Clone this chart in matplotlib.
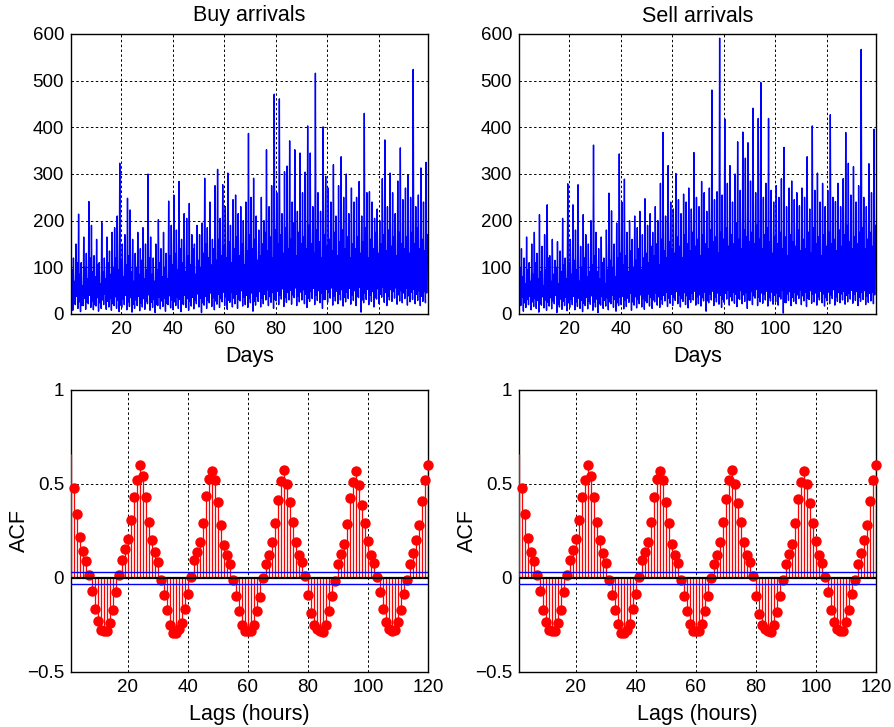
import numpy as np
import matplotlib
matplotlib.use("Agg")
import matplotlib.pyplot as plt

plt.rcParams['font.family'] = ['Liberation Sans', 'DejaVu Sans']

# ---------------- data: daily profile (low, peak, dip, mid) of hourly arrivals ----------------
buy_peak = [170, 120, 150, 214, 110, 165, 130, 241, 190, 125,
            160, 110, 196, 120, 165, 135, 175, 185, 210, 323,
            150, 170, 248, 223, 160, 130, 175, 140, 185, 150,
            300, 165, 120, 150, 202, 140, 175, 130, 242, 190,
            255, 180, 284, 160, 215, 205, 237, 170, 150, 190,
            170, 195, 291, 185, 240, 160, 275, 310, 205, 277,
            230, 302, 190, 245, 255, 215, 230, 200, 240, 387,
            250, 291, 210, 180, 250, 200, 352, 230, 275, 471,
            260, 461, 215, 305, 317, 371, 240, 352, 220, 345,
            260, 304, 403, 345, 230, 516, 260, 220, 401, 295,
            270, 240, 320, 210, 275, 337, 250, 300, 215, 270,
            240, 250, 284, 210, 430, 260, 262, 240, 205, 225,
            200, 290, 373, 230, 302, 260, 215, 285, 356, 245,
            270, 297, 250, 524, 230, 255, 313, 240, 325]
buy_mid = [95, 70, 110, 85, 60, 100, 75, 120, 90, 80,
           105, 65, 90, 75, 110, 85, 100, 120, 95, 115,
           80, 105, 125, 90, 70, 100, 85, 115, 75, 95,
           120, 85, 70, 95, 110, 80, 100, 75, 125, 105,
           130, 95, 140, 110, 90, 125, 105, 140, 85, 115,
           100, 130, 150, 120, 105, 140, 115, 160, 125, 145,
           120, 155, 110, 140, 165, 125, 150, 105, 135, 170,
           140, 160, 115, 125, 150, 175, 135, 165, 120, 180,
           150, 170, 130, 185, 140, 160, 195, 125, 175, 150,
           165, 140, 190, 150, 130, 180, 155, 120, 170, 145,
           160, 135, 175, 125, 155, 180, 140, 165, 120, 150,
           140, 165, 130, 155, 185, 120, 160, 140, 175, 130,
           150, 170, 135, 180, 145, 165, 125, 175, 150, 140,
           165, 130, 175, 150, 185, 140, 160, 135, 170]
buy_low = [15, 8, 20, 12, 5, 18, 10, 22, 14, 9,
           17, 6, 12, 20, 10, 15, 8, 18, 12, 5,
           14, 20, 9, 16, 4, 12, 18, 7, 15, 10,
           22, 8, 14, 3, 18, 11, 16, 6, 20, 13,
           9, 18, 12, 5, 20, 14, 8, 17, 11, 22,
           15, 3, 19, 12, 24, 16, 9, 21, 14, 26,
           18, 10, 25, 15, 22, 12, 28, 17, 20, 14,
           24, 6, 19, 27, 15, 22, 30, 18, 25, 12,
           28, 20, 32, 16, 25, 30, 21, 35, 18, 26,
           30, 22, 14, 27, 33, 20, 29, 24, 12, 31,
           25, 34, 19, 28, 22, 30, 17, 26, 33, 21,
           29, 18, 35, 4, 24, 31, 20, 27, 15, 32,
           22, 36, 25, 18, 30, 27, 34, 21, 28, 24,
           33, 19, 26, 31, 22, 29, 18, 27, 24]
buy_dip = [30, 22, 38, 26, 18, 34, 25, 40, 28, 20,
           35, 24, 30, 42, 27, 33, 22, 37, 29, 19,
           32, 40, 26, 35, 21, 30, 38, 24, 33, 27,
           41, 25, 31, 20, 36, 28, 34, 23, 39, 30,
           26, 37, 31, 22, 40, 33, 27, 36, 29, 43,
           34, 24, 38, 30, 45, 35, 28, 42, 33, 47,
           37, 29, 46, 34, 42, 31, 50, 36, 40, 33,
           45, 27, 38, 48, 34, 42, 52, 37, 46, 31,
           49, 40, 54, 35, 46, 51, 41, 56, 38, 47,
           52, 42, 33, 48, 55, 40, 50, 44, 31, 53,
           46, 56, 39, 49, 42, 52, 36, 47, 55, 41,
           50, 38, 57, 30, 45, 53, 40, 48, 35, 54,
           42, 58, 46, 38, 52, 48, 56, 41, 50, 45,
           55, 39, 47, 53, 42, 50, 38, 48, 45]

sell_peak = [215, 140, 120, 165, 110, 150, 175, 130, 213, 145,
             170, 234, 125, 160, 115, 155, 135, 205, 120, 279,
             160, 234, 180, 277, 145, 213, 170, 150, 200, 362,
             175, 140, 165, 120, 180, 259, 221, 150, 195, 343,
             240, 289, 175, 200, 160, 210, 185, 220, 170, 247,
             190, 215, 175, 230, 200, 280, 389, 210, 318, 240,
             225, 301, 245, 215, 257, 240, 270, 225, 346, 250,
             230, 284, 260, 220, 270, 480, 245, 262, 591, 255,
             418, 280, 318, 240, 300, 369, 265, 390, 334, 367,
             285, 441, 260, 419, 496, 250, 280, 419, 265, 240,
             275, 250, 290, 357, 230, 270, 285, 245, 260, 232,
             270, 250, 337, 225, 403, 265, 302, 240, 280, 230,
             265, 427, 250, 241, 280, 230, 290, 389, 323, 255,
             316, 240, 275, 567, 250, 230, 322, 260, 396]
sell_mid = [100, 80, 65, 95, 70, 85, 110, 75, 90, 60,
            95, 120, 70, 85, 100, 65, 90, 105, 75, 110,
            85, 115, 95, 70, 100, 120, 80, 90, 105, 125,
            90, 75, 110, 65, 95, 115, 100, 80, 120, 130,
            105, 125, 90, 135, 100, 115, 140, 95, 120, 130,
            110, 145, 125, 150, 105, 160, 135, 120, 155, 140,
            130, 165, 145, 120, 170, 150, 135, 175, 145, 160,
            125, 170, 150, 140, 180, 155, 165, 130, 175, 160,
            185, 145, 170, 150, 195, 160, 140, 180, 165, 155,
            175, 150, 190, 160, 140, 170, 185, 155, 130, 165,
            150, 175, 140, 165, 125, 170, 155, 145, 180, 135,
            160, 140, 175, 130, 185, 150, 165, 125, 170, 145,
            175, 150, 160, 135, 180, 145, 170, 190, 155, 140,
            165, 150, 175, 185, 140, 160, 175, 145, 190]
sell_low = [10, 18, 6, 14, 20, 9, 16, 12, 4, 19,
            13, 8, 17, 11, 22, 3, 15, 10, 18, 7,
            14, 20, 9, 16, 12, 5, 18, 11, 21, 8,
            15, 3, 19, 12, 17, 9, 22, 14, 6, 18,
            20, 11, 16, 25, 8, 19, 13, 22, 15, 10,
            24, 17, 12, 26, 19, 14, 21, 28, 16, 23,
            18, 29, 22, 15, 27, 20, 13, 25, 30, 19,
            22, 17, 28, 6, 24, 30, 18, 26, 21, 14,
            25, 32, 19, 28, 23, 16, 31, 22, 27, 12,
            29, 20, 34, 18, 26, 23, 30, 17, 28, 21,
            26, 19, 32, 2, 24, 29, 18, 27, 22, 33,
            20, 28, 16, 31, 23, 26, 19, 30, 24, 17,
            28, 22, 33, 19, 27, 24, 30, 21, 26, 32,
            23, 29, 18, 27, 31, 20, 25, 28, 22]
sell_dip = [28, 36, 24, 31, 38, 26, 33, 29, 22, 37,
            30, 25, 35, 28, 40, 21, 32, 27, 36, 24,
            31, 38, 26, 34, 29, 23, 36, 28, 39, 25,
            32, 22, 37, 29, 35, 26, 40, 31, 24, 36,
            38, 29, 34, 44, 26, 37, 31, 41, 33, 28,
            43, 35, 30, 45, 37, 32, 40, 47, 34, 42,
            36, 48, 41, 33, 46, 39, 31, 44, 49, 37,
            41, 35, 47, 28, 43, 49, 36, 45, 40, 32,
            44, 51, 37, 47, 42, 34, 50, 41, 46, 30,
            48, 39, 53, 36, 45, 42, 49, 35, 47, 40,
            45, 37, 51, 25, 43, 48, 36, 46, 41, 52,
            39, 47, 34, 50, 42, 45, 37, 49, 43, 35,
            47, 41, 52, 37, 46, 43, 49, 40, 45, 51,
            42, 48, 36, 46, 50, 39, 44, 47, 41]

# ---------------- data: sample ACF, lags 1..120 ----------------
acf_buy = [0.66, 0.48, 0.34, 0.22, 0.145, 0.09, 0.018, -0.07, -0.166, -0.23,
           -0.277, -0.28, -0.28, -0.24, -0.17, -0.073, 0.014, 0.095, 0.152, 0.21,
           0.31, 0.43, 0.52, 0.60, 0.54, 0.43, 0.30, 0.20, 0.14, 0.084,
           -0.01, -0.09, -0.17, -0.25, -0.29, -0.29, -0.27, -0.24, -0.166, -0.084,
           0.005, 0.095, 0.14, 0.19, 0.29, 0.434, 0.527, 0.568, 0.523, 0.405,
           0.284, 0.177, 0.123, 0.077, -0.012, -0.095, -0.173, -0.25, -0.28, -0.28,
           -0.28, -0.25, -0.173, -0.10, 0.0, 0.077, 0.123, 0.19, 0.29, 0.416,
           0.518, 0.577, 0.50, 0.405, 0.30, 0.19, 0.125, 0.086, 0.009, -0.09,
           -0.184, -0.25, -0.273, -0.28, -0.288, -0.25, -0.177, -0.098, -0.014, 0.077,
           0.13, 0.18, 0.288, 0.423, 0.51, 0.571, 0.495, 0.39, 0.29, 0.196,
           0.123, 0.08, 0.005, -0.073, -0.166, -0.234, -0.273, -0.28, -0.277, -0.234,
           -0.17, -0.084, -0.01, 0.073, 0.134, 0.20, 0.284, 0.41, 0.523, 0.60]
acf_sell = [0.66, 0.48, 0.34, 0.215, 0.14, 0.09, 0.016, -0.07, -0.17, -0.235,
            -0.275, -0.28, -0.28, -0.24, -0.17, -0.075, 0.015, 0.095, 0.15, 0.21,
            0.31, 0.43, 0.52, 0.60, 0.54, 0.43, 0.30, 0.20, 0.135, 0.08,
            -0.01, -0.09, -0.17, -0.245, -0.29, -0.29, -0.275, -0.245, -0.165, -0.085,
            0.005, 0.095, 0.14, 0.19, 0.30, 0.43, 0.525, 0.57, 0.52, 0.405,
            0.29, 0.18, 0.125, 0.08, -0.01, -0.095, -0.175, -0.245, -0.28, -0.28,
            -0.28, -0.245, -0.175, -0.095, 0.0, 0.075, 0.12, 0.19, 0.30, 0.42,
            0.52, 0.575, 0.50, 0.40, 0.30, 0.19, 0.12, 0.085, 0.01, -0.095,
            -0.19, -0.25, -0.27, -0.28, -0.285, -0.25, -0.18, -0.095, -0.01, 0.075,
            0.13, 0.18, 0.29, 0.42, 0.51, 0.57, 0.50, 0.40, 0.29, 0.195,
            0.12, 0.08, 0.005, -0.075, -0.17, -0.235, -0.27, -0.28, -0.28, -0.235,
            -0.17, -0.085, -0.01, 0.075, 0.135, 0.20, 0.28, 0.41, 0.52, 0.60]
conf_bound = 0.033

# ---------------- figure ----------------
W, H = 895, 727
fig = plt.figure(figsize=(W / 100, H / 100), dpi=100)

def px_axes(l, t, r, b):
    return fig.add_axes([l / W, 1 - b / H, (r - l) / W, (b - t) / H])

grid_kw = dict(color='black', linestyle=(0, (2.5, 2.5)), linewidth=0.7)
LABEL_FS = 15.5
TICK_FS = 13.5

def style(ax):
    ax.tick_params(length=0, labelsize=TICK_FS, pad=5)
    for s in ax.spines.values():
        s.set_linewidth(1.0)
    ax.grid(True, **grid_kw)
    ax.set_axisbelow(True)

def daily_series(low, peak, dip, mid):
    cols = [np.asarray(v) for v in (low, peak, dip, mid)]
    days = np.arange(len(cols[0]))
    x = np.column_stack([days + 0.1, days + 0.35, days + 0.6, days + 0.85]).ravel()
    y = np.column_stack(cols).ravel()
    return x, y

top_specs = [("Buy arrivals", buy_low, buy_peak, buy_dip, buy_mid, 71, 428),
             ("Sell arrivals", sell_low, sell_peak, sell_dip, sell_mid, 519, 876)]
for title, lo, pk, dp, md, l, r in top_specs:
    ax = px_axes(l, 34, r, 314)
    x, y = daily_series(lo, pk, dp, md)
    ax.plot(x, y, color='#0000ff', linewidth=1.0)
    ax.set_xlim(0.4, 139.1)
    ax.set_ylim(0, 600)
    ax.set_xticks([20, 40, 60, 80, 100, 120])
    ax.set_yticks(range(0, 601, 100))
    style(ax)
    ax.set_title(title, fontsize=LABEL_FS, pad=9)
    ax.set_xlabel("Days", fontsize=LABEL_FS, labelpad=6)

bot_specs = [(acf_buy, 71, 428), (acf_sell, 519, 876)]
for acf, l, r in bot_specs:
    ax = px_axes(l, 390, r, 672)
    lags = np.arange(1, len(acf) + 1)
    acf = np.asarray(acf)
    ax.vlines(lags, 0, acf, color='#ff0000', linewidth=0.9, zorder=3)
    ax.plot(lags[1:], acf[1:], linestyle='none', marker='o', markersize=6.5,
            color='#ff0000', clip_on=False, zorder=4)
    ax.axhline(0, color='black', linewidth=1.6, zorder=5)
    ax.axhline(conf_bound, color='#0000ff', linewidth=1.0, zorder=5)
    ax.axhline(-conf_bound, color='#0000ff', linewidth=1.0, zorder=5)
    ax.set_xlim(1, 120)
    ax.set_ylim(-0.5, 1)
    ax.set_xticks([20, 40, 60, 80, 100, 120])
    ax.set_yticks([-0.5, 0, 0.5, 1])
    ax.set_yticklabels(['\u22120.5', '0', '0.5', '1'])
    style(ax)
    ax.set_xlabel("Lags (hours)", fontsize=LABEL_FS, labelpad=6)
    ax.set_ylabel("ACF", fontsize=LABEL_FS, va='center')
    ax.yaxis.set_label_coords(-0.145, 0.5)

fig.savefig("out.png", dpi=100)
